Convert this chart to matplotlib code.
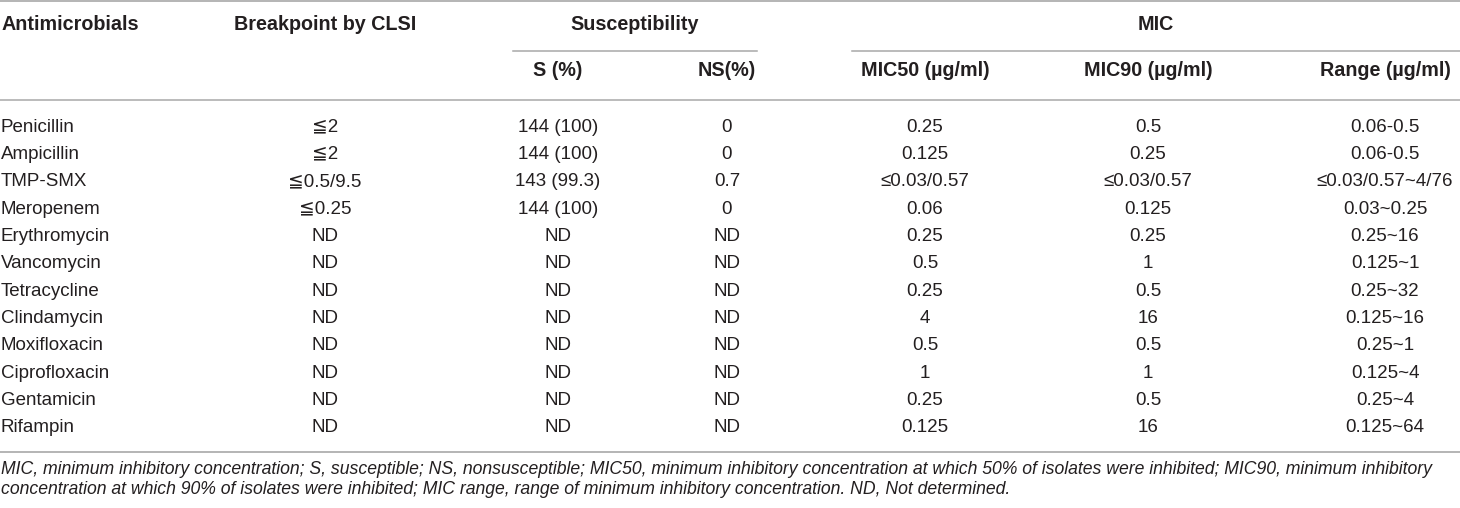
import matplotlib.pyplot as plt

# table data
drugs = ["Penicillin", "Ampicillin", "TMP-SMX", "Meropenem", "Erythromycin", "Vancomycin",
         "Tetracycline", "Clindamycin", "Moxifloxacin", "Ciprofloxacin", "Gentamicin", "Rifampin"]
breakpoint = ["≦2", "≦2", "≦0.5/9.5", "≦0.25"] + ["ND"] * 8
s_pct = ["144 (100)", "144 (100)", "143 (99.3)", "144 (100)"] + ["ND"] * 8
ns_pct = ["0", "0", "0.7", "0"] + ["ND"] * 8
mic50 = ["0.25", "0.125", "≤0.03/0.57", "0.06", "0.25", "0.5", "0.25", "4", "0.5", "1", "0.25", "0.125"]
mic90 = ["0.5", "0.25", "≤0.03/0.57", "0.125", "0.25", "1", "0.5", "16", "0.5", "1", "0.5", "16"]
mic_range = ["0.06-0.5", "0.06-0.5", "≤0.03/0.57~4/76", "0.03~0.25", "0.25~16", "0.125~1",
             "0.25~32", "0.125~16", "0.25~1", "0.125~4", "0.25~4", "0.125~64"]

group_headers = ["Susceptibility", "MIC"]
col_headers = ["S (%)", "NS(%)", "MIC50 (µg/ml)", "MIC90 (µg/ml)", "Range (µg/ml)"]
footnote = ["MIC, minimum inhibitory concentration; S, susceptible; NS, nonsusceptible; MIC50, minimum inhibitory concentration at which 50% of isolates were inhibited; MIC90, minimum inhibitory",
            "concentration at which 90% of isolates were inhibited; MIC range, range of minimum inhibitory concentration. ND, Not determined."]

plt.rcParams['font.family'] = ["Liberation Sans", "DejaVu Sans"]

W, H = 1460, 508
fig = plt.figure(figsize=(W / 100, H / 100), dpi=100)
ax = fig.add_axes([0, 0, 1, 1])
ax.set_xlim(0, W)
ax.set_ylim(H, 0)
ax.axis('off')

fs_head = 14.2
fs_body = 13.5
fs_note = 12.7
line_col = "#a8a8a8"
txt_col = "#231f20"

# rules
ax.plot([0, W], [1, 1], color=line_col, lw=1.2)
ax.plot([513, 757], [51, 51], color=line_col, lw=1.1)
ax.plot([852, W], [51, 51], color=line_col, lw=1.1)
ax.plot([0, W], [100, 100], color=line_col, lw=1.1)
ax.plot([0, W], [452, 452], color=line_col, lw=1.2)

# header
ax.text(1, 25, "Antimicrobials", fontsize=fs_head, fontweight='bold', va='center', ha='left', color=txt_col)
ax.text(325, 25, "Breakpoint by CLSI", fontsize=fs_head, fontweight='bold', va='center', ha='center', color=txt_col)
ax.text(635, 25, group_headers[0], fontsize=fs_head, fontweight='bold', va='center', ha='center', color=txt_col)
ax.text(1156, 25, group_headers[1], fontsize=fs_head, fontweight='bold', va='center', ha='center', color=txt_col)

col_x = [325, 558, 727, 925, 1148, 1385]
for x, h in zip(col_x[1:], col_headers):
    ax.text(x, 70, h, fontsize=fs_head, fontweight='bold', va='center', ha='center', color=txt_col)

# body
row_y0, row_dy = 127, 27.36
cols = [breakpoint, s_pct, ns_pct, mic50, mic90, mic_range]
for i, d in enumerate(drugs):
    y = row_y0 + i * row_dy
    ax.text(1, y, d, fontsize=fs_body, va='center', ha='left', color=txt_col)
    for x, c in zip(col_x, cols):
        ax.text(x, y, c[i], fontsize=fs_body, va='center', ha='center', color=txt_col)

# footnote
for j, line in enumerate(footnote):
    ax.text(1, 470 + j * 19, line, fontsize=fs_note, style='italic', va='center', ha='left', color=txt_col)

fig.savefig("out.png", dpi=100, facecolor='white')
